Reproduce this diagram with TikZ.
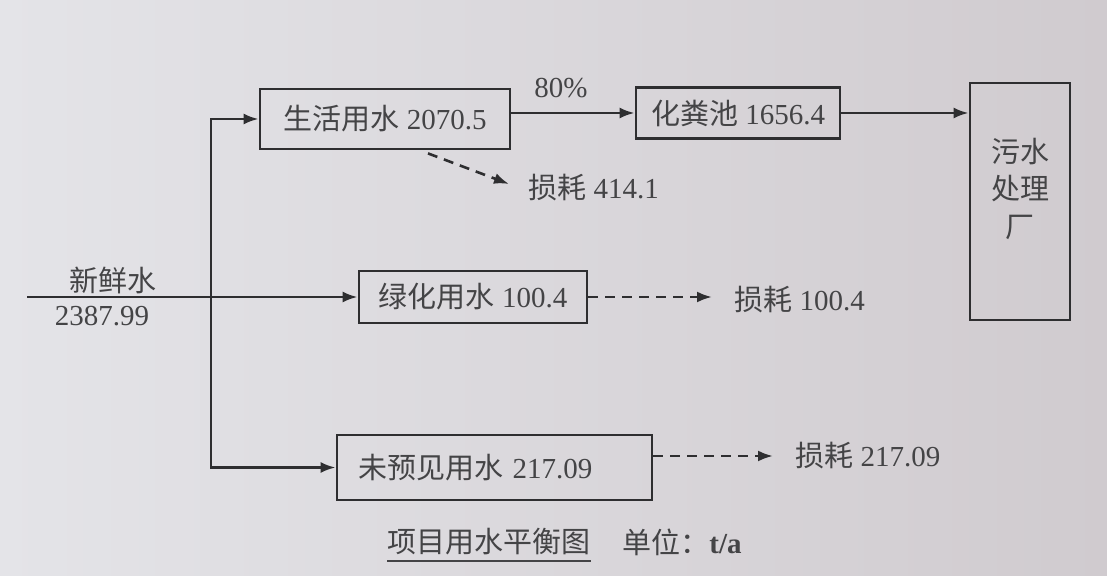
\documentclass[tikz,border=0pt]{standalone}
\usepackage{fontspec}
\setmainfont{Liberation Serif}
\newfontfamily\cjk{Noto Sans CJK SC}
\usetikzlibrary{arrows.meta,calc}
\definecolor{ink}{HTML}{2E2E30}
\definecolor{txt}{HTML}{444446}
\definecolor{bgl}{HTML}{E4E4E8}
\definecolor{bgr}{HTML}{D0CBCF}
\begin{document}
\begin{tikzpicture}[x=0.5pt,y=-0.5pt,
  font=\fontsize{14.5}{17}\selectfont, text=txt,
  box/.style={draw=ink, line width=1.4pt, inner sep=0pt},
  flow/.style={draw=ink, line width=1.3pt, -{Latex[length=7.5pt,width=5.5pt]}},
  loss/.style={flow, dash pattern=on 5pt off 3.5pt},
  lbl/.style={inner sep=0pt}]
\shade[left color=bgl, right color=bgr] (0,0) rectangle (1107,576);
% boxes
\node[box, minimum width=125pt, minimum height=30pt] (sh) at (385,119) {{\cjk 生活用水} 2070.5};
\node[box, minimum width=102pt, minimum height=25.5pt] (hf) at (738,113) {{\cjk 化粪池} 1656.4};
\node[box, minimum width=50pt, minimum height=118.5pt] (ws) at (1020,201.5) {};
\node[lbl, align=center, font=\fontsize{14.5}{18.75}\selectfont\cjk] (wst) at (1020,188.5) {污水\\处理\\厂};
\node[box, minimum width=114pt, minimum height=26pt] (lh) at (473,297) {{\cjk 绿化用水} 100.4};
\node[box, minimum width=157.5pt, minimum height=32.5pt, text width=136.5pt, inner xsep=10.5pt, align=left] (wy) at (494.5,467.5) {{\cjk 未预见用水} 217.09};
% labels
\node[lbl, anchor=west] (l1) at (528,188) {{\cjk 损耗} 414.1};
\node[lbl, anchor=west] (l2) at (734,300) {{\cjk 损耗} 100.4};
\node[lbl, anchor=west] (l3) at (795,456) {{\cjk 损耗} 217.09};
\node[lbl] (p80) at (561,88) {80\%};
\node[lbl] (fw) at (113,280) {\cjk 新鲜水};
\node[lbl] (fwv) at (102,316) {2387.99};
\node[lbl] (cap) at (489,542) {\cjk 项目用水平衡图};
\node[lbl] (unit) at (682,542) {{\cjk 单位：}\textbf{t/a}};
\draw[draw=txt, line width=1.2pt] ([yshift=-2.5pt]cap.south west) -- ([yshift=-2.5pt]cap.south east);
% connectors
\coordinate (src) at (27,297);
\coordinate (j) at (211,297);
\draw[flow] (src) -- (lh.west);
\draw[flow] (j) |- (sh.west);
\draw[flow] (j) |- (wy.west);
\draw[flow] (sh.east |- hf.west) -- (hf.west);
\draw[flow] (hf.east) -- (ws.west |- hf.east);
\coordinate (d1) at ($(sh.south west)!0.67!(sh.south east)$);
\draw[loss] ([yshift=-1.5pt]d1) -- ([xshift=-9.5pt,yshift=2pt]l1.west);
\draw[loss] (lh.east) -- ([xshift=-11pt]l2.west |- lh.east);
\draw[loss] (wy.east |- l3.west) -- ([xshift=-11pt]l3.west);
\end{tikzpicture}
\end{document}
